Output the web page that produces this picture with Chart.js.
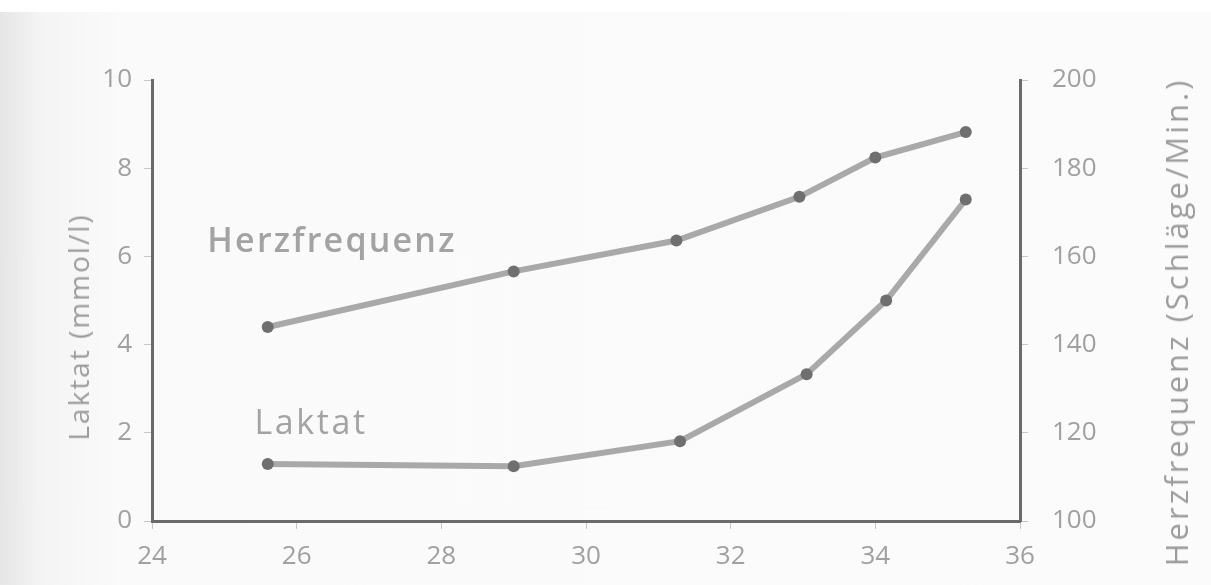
<!DOCTYPE html>
<html>
<head>
<meta charset="utf-8">
<script src="https://cdn.jsdelivr.net/npm/chart.js@4.4.1/dist/chart.umd.min.js"></script>
<style>
  html, body { margin: 0; padding: 0; }
  body {
    width: 1211px; height: 585px; overflow: hidden; position: relative;
    background: linear-gradient(to right, #e6e6e6 0px, #f4f4f4 40px, #fafafa 120px, #fbfbfb 100%);
    font-family: "Open Sans", "DejaVu Sans", sans-serif;
  }
  #topband { position: absolute; left: 0; top: 0; width: 1211px; height: 12px; background: #ffffff; }
  #wrap { position: absolute; left: 0; top: 0; width: 1211px; height: 585px; }
  .lbl { position: absolute; white-space: nowrap; color: #9c9c9c; transform: translate(-50%, -50%); }
  .rot { transform: translate(-50%, -50%) rotate(-90deg); }
</style>
</head>
<body>
<div id="topband"></div>
<div id="wrap"><canvas id="chart" width="1211" height="585"></canvas></div>
<div class="lbl rot" style="left:78px; top:327px; font-size:28px; letter-spacing:2px;">Laktat (mmol/l)</div>
<div class="lbl rot" style="left:1176px; top:322px; font-size:31px; letter-spacing:3px;">Herzfrequenz (Schläge/Min.)</div>
<div class="lbl" style="left:332px; top:239px; font-size:34px; font-weight:600; letter-spacing:2.2px; color:#a3a3a3;">Herzfrequenz</div>
<div class="lbl" style="left:311px; top:421px; font-size:34px; letter-spacing:2.6px; color:#a3a3a3;">Laktat</div>
<script>
// Laufgeschwindigkeit (km/h) und Messwerte
const herzSpeed = [25.6, 29.0, 31.25, 32.95, 34.0, 35.25];
const herzfrequenz = [144, 156.6, 163.6, 173.5, 182.4, 188.2];

const laktatSpeed = [25.6, 29.0, 31.3, 33.05, 34.15, 35.25];
const laktat = [1.29, 1.24, 1.81, 3.33, 5.0, 7.29];

const xTicks = [24, 26, 28, 30, 32, 34, 36];
const laktatTicks = [0, 2, 4, 6, 8, 10];
const herzTicks = [100, 120, 140, 160, 180, 200];

const lineGray = '#a9a9a9';
const dotGray = '#6f6f6f';
const tickFont = { family: '"Open Sans", "DejaVu Sans", sans-serif', size: 26 };

const ctx = document.getElementById('chart').getContext('2d');

new Chart(ctx, {
    type: 'line',
    data: {
        datasets: [{
            label: 'Herzfrequenz',
            data: herzSpeed.map((s, i) => ({ x: s, y: herzfrequenz[i] })),
            yAxisID: 'y1',
            borderColor: lineGray,
            borderWidth: 6,
            pointRadius: 6,
            pointBackgroundColor: dotGray,
            pointBorderWidth: 0,
            tension: 0
        }, {
            label: 'Laktat',
            data: laktatSpeed.map((s, i) => ({ x: s, y: laktat[i] })),
            yAxisID: 'y',
            borderColor: lineGray,
            borderWidth: 6,
            pointRadius: 6,
            pointBackgroundColor: dotGray,
            pointBorderWidth: 0,
            tension: 0
        }]
    },
    options: {
        responsive: false,
        animation: false,
        layout: { padding: { top: 80, left: 0, right: 0, bottom: 0 } },
        plugins: {
            legend: { display: false },
            tooltip: { enabled: false }
        },
        scales: {
            x: {
                type: 'linear',
                min: 24,
                max: 36,
                afterBuildTicks: (scale) => { scale.ticks = xTicks.map(v => ({ value: v })); },
                afterFit: (scale) => { scale.height = 64; },
                ticks: { color: '#a0a0a0', font: tickFont, padding: 12 },
                grid: { drawOnChartArea: false, tickLength: 8, color: '#c6c6c6' },
                border: { color: '#6b6b6b', width: 3 }
            },
            y: {
                position: 'left',
                min: 0,
                max: 10,
                afterBuildTicks: (scale) => { scale.ticks = laktatTicks.map(v => ({ value: v })); },
                afterFit: (scale) => { scale.width = 152; },
                ticks: { color: '#a0a0a0', font: tickFont, padding: 12 },
                grid: { drawOnChartArea: false, tickLength: 8, color: '#c6c6c6' },
                border: { color: '#6b6b6b', width: 3 }
            },
            y1: {
                position: 'right',
                min: 100,
                max: 200,
                afterBuildTicks: (scale) => { scale.ticks = herzTicks.map(v => ({ value: v })); },
                afterFit: (scale) => { scale.width = 191; },
                ticks: { color: '#a0a0a0', font: tickFont, padding: 24 },
                grid: { drawOnChartArea: false, tickLength: 8, color: '#c6c6c6' },
                border: { color: '#6b6b6b', width: 3 }
            }
        }
    }
});
</script>
</body>
</html>
